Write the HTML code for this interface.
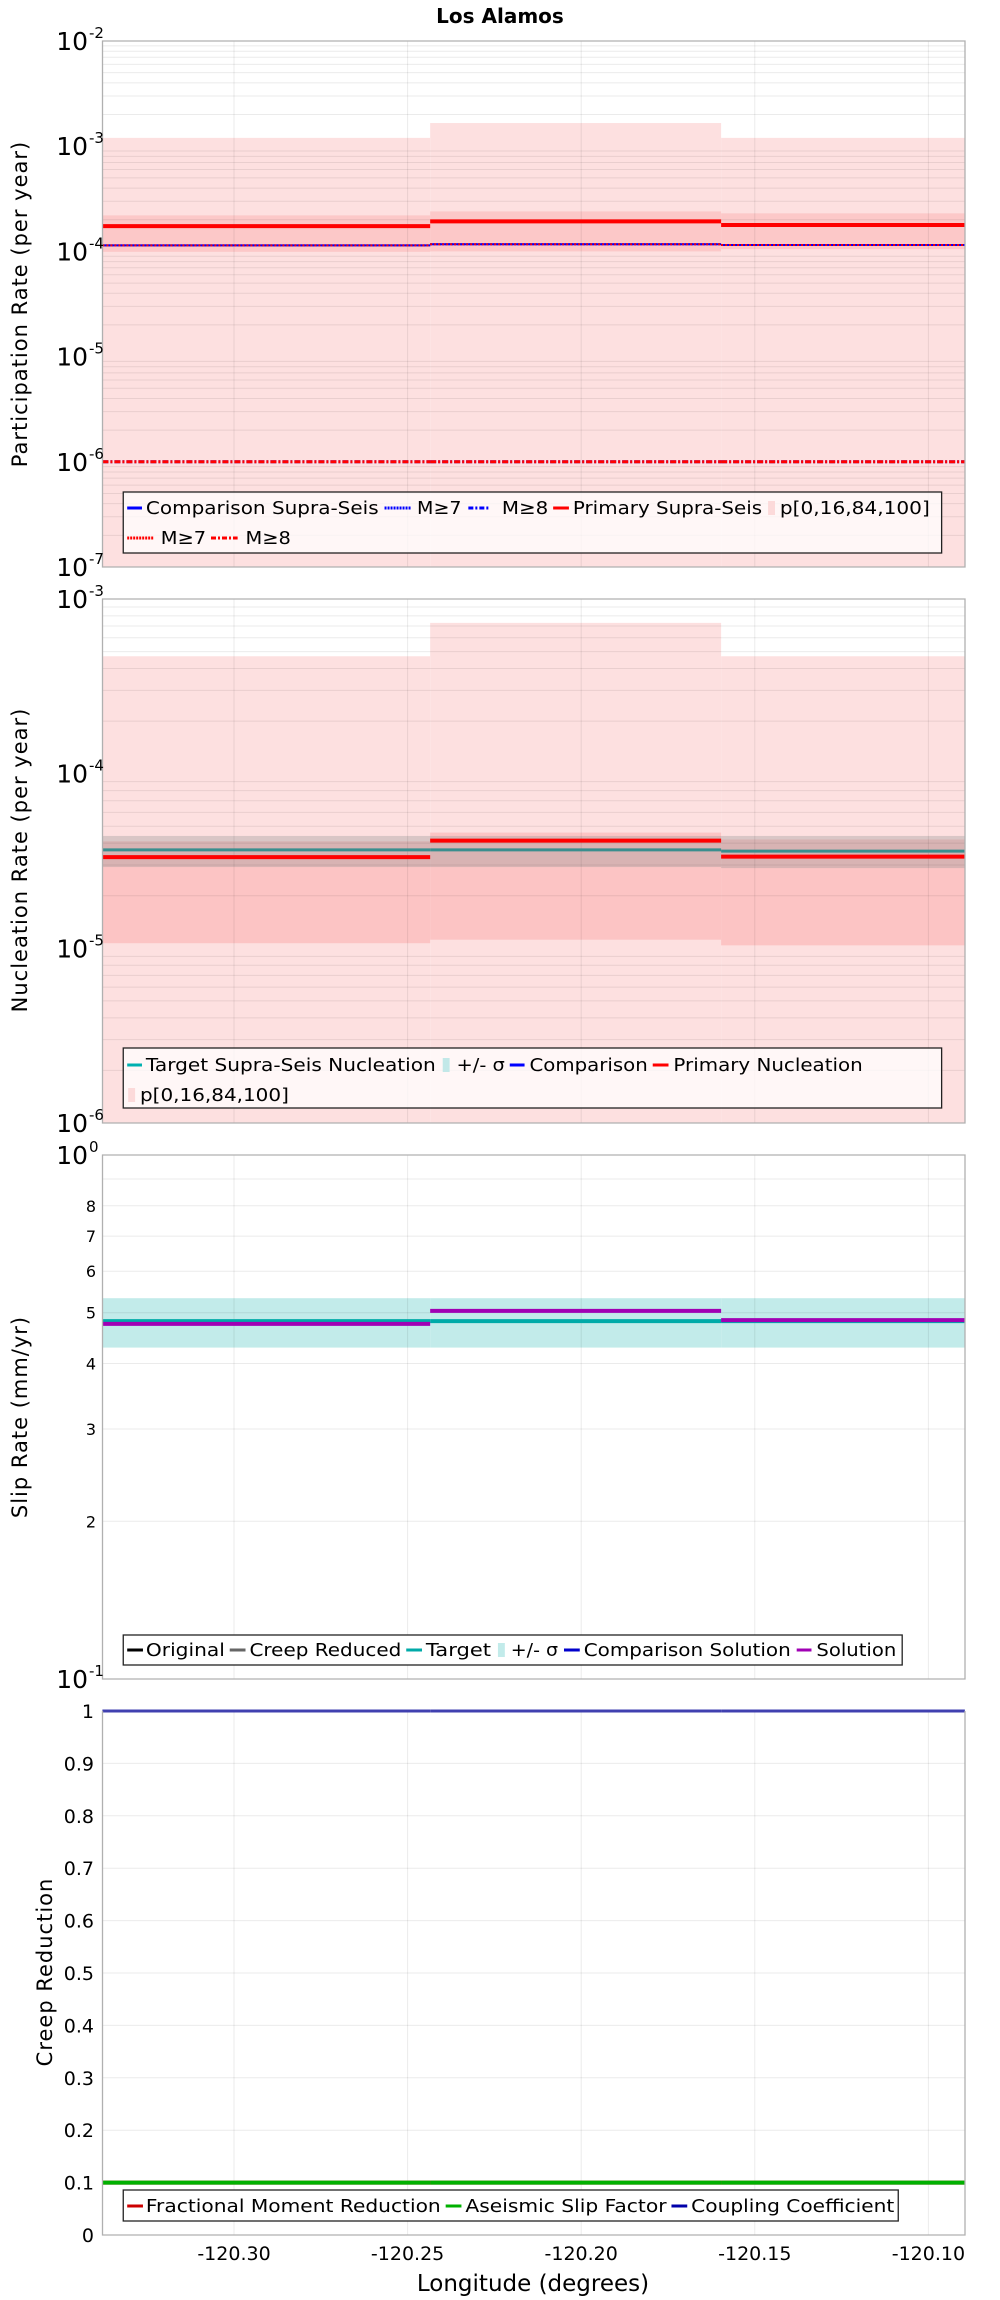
<!DOCTYPE html>
<html><head><meta charset="utf-8"><style>
html,body{margin:0;padding:0;background:#fff;}
svg{display:block;font-family:"DejaVu Sans","Liberation Sans",sans-serif;}
</style></head><body>
<svg id="chart" width="1000" height="2300" viewBox="0 0 1000 2300" xmlns="http://www.w3.org/2000/svg">
<text x="500" y="23" text-anchor="middle" font-size="20" font-weight="bold">Los Alamos</text>
</svg>
<script>
// ---- data ----
const segEdges = [-120.3379, -120.2435, -120.1597, -120.0895];
const xTicks = [-120.30, -120.25, -120.20, -120.15, -120.10];
const xTickLabels = ["-120.30", "-120.25", "-120.20", "-120.15", "-120.10"];
// panel 1 participation
const p1Primary = [1.74e-4, 1.93e-4, 1.78e-4];
const p1Comparison = [1.14e-4, 1.17e-4, 1.15e-4];
const p1M7 = [1.14e-4, 1.17e-4, 1.15e-4];
const p1M8 = [1.0e-6, 1.0e-6, 1.0e-6];
const p1P100 = [1.2e-3, 1.66e-3, 1.2e-3];
const p1P0 = [1e-8, 1e-8, 1e-8];
const p1P84 = [2.2e-4, 2.4e-4, 2.3e-4];
const p1P16 = [9.9e-5, 1.0e-4, 1.05e-4];
// panel 2 nucleation
const p2Primary = [3.33e-5, 4.14e-5, 3.35e-5];
const p2Target = [3.66e-5, 3.66e-5, 3.6e-5];
const p2SigHi = [4.4e-5, 4.4e-5, 4.4e-5];
const p2SigLo = [2.92e-5, 2.92e-5, 2.88e-5];
const p2P100 = [4.7e-4, 7.3e-4, 4.7e-4];
const p2P0 = [1e-7, 1e-7, 1e-7];
const p2P84 = [4.1e-5, 4.6e-5, 4.2e-5];
const p2P16 = [1.07e-5, 1.12e-5, 1.04e-5];
// panel 3 slip
const p3Target = [4.82, 4.82, 4.82];
const p3SigHi = [5.33, 5.33, 5.33];
const p3SigLo = [4.29, 4.29, 4.29];
const p3Solution = [4.76, 5.04, 4.84];
const p3TickVals = [2, 3, 4, 5, 6, 7, 8];
// panel 4 creep
const p4Coupling = [1, 1, 1];
const p4Aseismic = [0.1, 0.1, 0.1];
const p4Fractional = [0.1, 0.1, 0.1];
const p4TickVals = [0, 0.1, 0.2, 0.3, 0.4, 0.5, 0.6, 0.7, 0.8, 0.9, 1];

const NS = "http://www.w3.org/2000/svg";
const svg = document.getElementById('chart');
const L = 102.5, R = 965;
const K = 0.986;
function xs(lon){ return 234 + (lon + 120.30) / 0.05 * 173.6; }
function mk(tag, attrs, parent){ const e = document.createElementNS(NS, tag); for (const k in attrs) e.setAttribute(k, attrs[k]); (parent||svg).appendChild(e); return e; }
function logScale(top, bot, lo, hi){ return v => bot - (Math.log10(v) - lo) / (hi - lo) * (bot - top); }
function linScale(top, bot, lo, hi){ return v => bot - (v - lo) / (hi - lo) * (bot - top); }

function bands(ys, hi, lo, fill, name){
  for (let i = 0; i < 3; i++){
    const y1 = Math.max(ys.top, ys.f(hi[i])), y2 = Math.min(ys.bot, ys.f(lo[i]));
    const r = mk('rect', {x: xs(segEdges[i]), y: y1, width: xs(segEdges[i+1]) - xs(segEdges[i]), height: y2 - y1, fill: fill});
    
    
  }
}
function steps(ys, vals, stroke, w, dash, name){
  for (let i = 0; i < 3; i++){
    const a = {x1: xs(segEdges[i]), x2: xs(segEdges[i+1]), y1: ys.f(vals[i]), y2: ys.f(vals[i]), stroke: stroke, 'stroke-width': w};
    if (dash) a['stroke-dasharray'] = dash;
    const l = mk('line', a);
    
    
  }
}
function vgrid(ys){
  xTicks.forEach(t => { const l = mk('line', {x1: xs(t), x2: xs(t), y1: ys.top, y2: ys.bot, stroke: 'rgba(0,0,0,0.08)', 'stroke-width': 1});
    
     });
}
function hline(y){ const l = mk('line', {x1: L, x2: R, y1: y, y2: y, stroke: 'rgba(0,0,0,0.08)', 'stroke-width': 1});
  
   }
function loggrid(ys, lo, hi){
  for (let d = lo; d < hi; d++) for (let m = 2; m < 10; m++) hline(ys.f(m * Math.pow(10, d)));
}
function frame(ys, noTop){
  const f = mk('path', {d: noTop ? `M${L},${ys.top}V${ys.bot}H${R}V${ys.top}` : `M${L},${ys.top}V${ys.bot}H${R}V${ys.top}Z`, fill: 'none', stroke: '#b0b0b0', 'stroke-width': 1.3});
  
  
}
function powLabel(y, exp){
  const t = mk('text', {x: 88, y: y + 9, 'text-anchor': 'end', 'font-size': 25});
  t.textContent = '10';
  
  
  const s = mk('text', {x: 89, y: y - 3, 'font-size': 15});
  s.textContent = exp;
  
  
}
function ytitle(text, x, y){
  const t = mk('text', {x: x, y: y, 'text-anchor': 'middle', 'font-size': 21, transform: `rotate(-90 ${x} ${y})`, 'letter-spacing': 1});
  t.textContent = text;
  
  
}
function legendBox(x, y, w, h, fill){
  const r = mk('rect', {x: x*K, y: y, width: w*K, height: h, fill: fill, stroke: '#222', 'stroke-width': 1.3});
  
  
}
function legItem(kind, color, dash, sx, sw, tx, tw, y, label){
  let s;
  sx *= K; sw *= K; tx *= K; tw *= K;
  if (kind === 'sq') s = mk('rect', {x: sx, y: y - 13, width: sw, height: 14, fill: color});
  else { s = mk('line', {x1: sx, x2: sx + sw, y1: y - 6, y2: y - 6, stroke: color, 'stroke-width': 3});
    if (dash) s.setAttribute('stroke-dasharray', dash); }
  
  
  const t = mk('text', {x: tx, y: y, 'font-size': 18, textLength: tw, lengthAdjust: 'spacingAndGlyphs'});
  t.textContent = label;
  
  
}

// ---- panel 1 ----
const y1 = {top: 41, bot: 567}; y1.f = logScale(y1.top, y1.bot, -7, -2);
bands(y1, p1P100, p1P0, '#fde0e0', 'p0-100-band');
bands(y1, p1P84, p1P16, '#fcc8c8', 'p16-84-band');
loggrid(y1, -7, -2); vgrid(y1);
steps(y1, p1Comparison, '#0000ff', 2, null, 'comparison-supra-seis');
steps(y1, p1M7, '#0000ff', 2, '2,1', 'comparison-m7');
steps(y1, p1M7, '#ff0000', 2, '2,2', 'primary-m7');
steps(y1, p1M8, '#0000ff', 3, '6,2,2,2', 'comparison-m8');
steps(y1, p1M8, '#ff0000', 3, '6,2,2,2', 'primary-m8');
steps(y1, p1Primary, '#ff0000', 4, null, 'primary-supra-seis');
frame(y1);
for (let e = -7; e <= -2; e++) powLabel(y1.f(Math.pow(10, e)), String(e));
ytitle('Participation Rate (per year)', 27, 304);
legendBox(125, 492, 830, 61, 'rgba(255,255,255,0.75)');
legItem('ln', '#0000ff', null, 129, 15, 148, 236, 514, 'Comparison Supra-Seis');
legItem('ln', '#0000ff', '2,1', 390, 27, 423, 45, 514, 'M≥7');
legItem('ln', '#0000ff', '5,2,2,2', 475, 22, 509, 47, 514, 'M≥8');
legItem('ln', '#ff0000', null, 561, 16, 581, 192, 514, 'Primary Supra-Seis');
legItem('sq', '#fcdada', null, 779, 7, 791, 152, 514, 'p[0,16,84,100]');
legItem('ln', '#ff0000', '2,1', 129, 27, 163, 46, 544, 'M≥7');
legItem('ln', '#ff0000', '5,2,2,2', 214, 27, 249, 46, 544, 'M≥8');

// ---- panel 2 ----
const y2 = {top: 599, bot: 1123}; y2.f = logScale(y2.top, y2.bot, -6, -3);
bands(y2, p2P100, p2P0, '#fde0e0', 'p0-100-band');
bands(y2, p2P84, p2P16, '#fcc4c4', 'p16-84-band');
bands(y2, p2SigHi, p2SigLo, 'rgba(150,150,150,0.35)', 'sigma-band');
loggrid(y2, -6, -3); vgrid(y2);
steps(y2, p2Target, '#3a8e8e', 3, null, 'target-nucleation');
steps(y2, p2Primary, '#ff0000', 4, null, 'primary-nucleation');
frame(y2);
for (let e = -6; e <= -3; e++) powLabel(y2.f(Math.pow(10, e)), String(e));
ytitle('Nucleation Rate (per year)', 27, 860);
legendBox(125, 1048, 830, 60, 'rgba(255,255,255,0.75)');
legItem('ln', '#00b0b0', null, 129, 15, 148, 294, 1071, 'Target Supra-Seis Nucleation');
legItem('sq', '#c2e8e8', null, 449, 7, 463, 49, 1071, '+/- σ');
legItem('ln', '#0000ff', null, 517, 15, 537, 120, 1071, 'Comparison');
legItem('ln', '#ff0000', null, 662, 16, 683, 192, 1071, 'Primary Nucleation');
legItem('sq', '#fcdada', null, 130, 7, 142, 151, 1101, 'p[0,16,84,100]');

// ---- panel 3 ----
const y3 = {top: 1155, bot: 1679}; y3.f = logScale(y3.top, y3.bot, 0, 1);
bands(y3, p3SigHi, p3SigLo, '#c2ebea', 'sigma-band');
for (let m = 2; m <= 9; m++) hline(y3.f(m));
vgrid(y3);
steps(y3, p3Target, '#00aaa8', 4, null, 'target-slip');
steps(y3, p3Solution, '#a000b4', 4, null, 'solution-slip');
frame(y3);
powLabel(y3.top, '0'); powLabel(y3.bot, '-1');
p3TickVals.forEach(v => { const t = mk('text', {x: 96, y: y3.f(v) + 6, 'text-anchor': 'end', 'font-size': 16}); t.textContent = String(v);
  
   });
ytitle('Slip Rate (mm/yr)', 27, 1417);
legendBox(125, 1635, 790, 30, '#fff');
legItem('ln', '#000', null, 129, 16, 148, 80, 1656, 'Original');
legItem('ln', '#666', null, 233, 16, 253, 154, 1656, 'Creep Reduced');
legItem('ln', '#00aaa8', null, 412, 16, 432, 66, 1656, 'Target');
legItem('sq', '#c2ebea', null, 505, 7, 518, 48, 1656, '+/- σ');
legItem('ln', '#0000cc', null, 572, 16, 592, 210, 1656, 'Comparison Solution');
legItem('ln', '#a000b4', null, 808, 15, 828, 81, 1656, 'Solution');

// ---- panel 4 ----
const y4 = {top: 1711, bot: 2235}; y4.f = linScale(y4.top, y4.bot, 0, 1);
p4TickVals.forEach(v => { if (v > 0 && v < 1) hline(y4.f(v)); });
vgrid(y4);
steps(y4, p4Fractional, '#cc0000', 4, null, 'fractional-moment-reduction');
steps(y4, p4Aseismic, '#00b000', 4, null, 'aseismic-slip-factor');
steps(y4, p4Coupling, '#4040b0', 3, null, 'coupling-coefficient');
frame(y4, true);
p4TickVals.forEach(v => { const t = mk('text', {x: 94, y: y4.f(v) + 7, 'text-anchor': 'end', 'font-size': 19}); t.textContent = String(v);
  
   });
ytitle('Creep Reduction', 52, 1972);
legendBox(125, 2190, 786, 31, '#fff');
legItem('ln', '#cc0000', null, 129, 16, 148, 299, 2212, 'Fractional Moment Reduction');
legItem('ln', '#00b000', null, 452, 16, 472, 204, 2212, 'Aseismic Slip Factor');
legItem('ln', '#0000aa', null, 681, 16, 701, 206, 2212, 'Coupling Coefficient');

// ---- x axis ----
xTicks.forEach((t, i) => { const e = mk('text', {x: xs(t), y: 2260, 'text-anchor': 'middle', 'font-size': 19}); e.textContent = xTickLabels[i];
  
   });
const xt = mk('text', {x: 533, y: 2291, 'text-anchor': 'middle', 'font-size': 23});
xt.textContent = 'Longitude (degrees)';


</script>
</body></html>
